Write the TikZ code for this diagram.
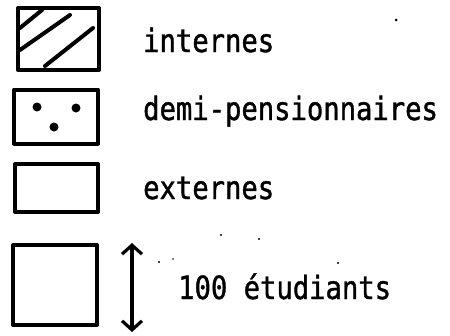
\documentclass[tikz,border=0pt]{standalone}
\usepackage{fontspec}
\usetikzlibrary{arrows.meta}
\newfontfamily\tw[FakeStretch=0.85,FakeBold=1.2]{DejaVu Sans Mono}
\tikzset{
  legbox/.style={draw=black, line width=4pt, line join=round},
  hatch/.style={draw=black, line width=4pt, line cap=round},
  speck/.style={fill=black, draw=none},
  lbl/.style={anchor=base west, inner sep=0pt, font=\tw\fontsize{32}{36}\selectfont},
}
\begin{document}
\begin{tikzpicture}[x=1pt,y=-1pt]
\useasboundingbox (0,0) rectangle (450,335);
% boxes
\node[legbox, minimum width=81pt, minimum height=62pt, inner sep=0pt] (bint) at (58.5,39) {};
\node[legbox, minimum width=84pt, minimum height=54pt, inner sep=0pt] (bdemi) at (56,116.5) {};
\node[legbox, minimum width=83pt, minimum height=48pt, inner sep=0pt] (bext) at (56.5,188) {};
\node[legbox, minimum width=84pt, minimum height=80pt, inner sep=0pt] (bunit) at (55,285) {};
% hatching
\draw[hatch] (20,28) -- (42,10);
\draw[hatch] (20,50) -- (70,15);
\draw[hatch] (45,66) -- (93,28);
% dots
\fill (37,107) circle (4.5pt);
\fill (76,108) circle (4.5pt);
\fill (54,127) circle (4.5pt);
% arrow
\coordinate (atop) at (132,243);
\coordinate (abot) at (132,332);
\draw[line width=3.2pt, {Straight Barb[length=9pt,width=20pt,line width=3.2pt]}-{Straight Barb[length=9pt,width=20pt,line width=3.2pt]}] (atop) -- (abot);
% labels
\node[lbl] (tint) at (143,52) {internes};
\node[lbl] (tdemi) at (143,120) {demi-pensionnaires};
\node[lbl] (text) at (143,199) {externes};
\node[lbl] (tunit) at (178,299) {100 étudiants};
% specks
\fill[speck] (396,20) circle (1.5pt);
\fill[speck] (221,235) circle (1.1pt);
\fill[speck] (259,239) circle (1.1pt);
\fill[speck] (338,263) circle (1.2pt);
\fill[speck] (159,262) circle (1.2pt);
\fill[speck] (173,259) circle (0.9pt);
\end{tikzpicture}
\end{document}
